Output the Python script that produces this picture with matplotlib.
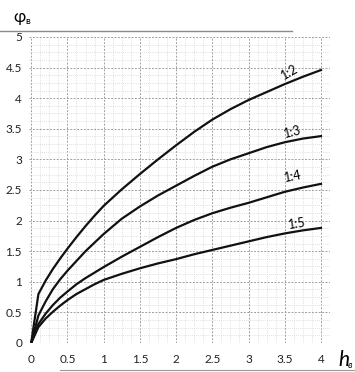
import matplotlib
matplotlib.use("Agg")
from matplotlib import pyplot as plt
from matplotlib.lines import Line2D

# values
h_vals = [0, 0.1, 0.2, 0.3, 0.4, 0.5, 0.625, 0.75, 0.875, 1.0, 1.25, 1.5, 1.75,
          2.0, 2.25, 2.5, 2.75, 3.0, 3.25, 3.5, 3.75, 4.0]
phi_12 = [0, 0.80, 1.02, 1.21, 1.38, 1.54, 1.73, 1.91, 2.08, 2.24, 2.51, 2.76, 3.00,
          3.23, 3.45, 3.65, 3.82, 3.97, 4.10, 4.23, 4.35, 4.46]
phi_13 = [0, 0.45, 0.68, 0.88, 1.04, 1.18, 1.34, 1.50, 1.64, 1.78, 2.03, 2.23, 2.41,
          2.57, 2.73, 2.88, 3.00, 3.10, 3.20, 3.28, 3.34, 3.38]
phi_14 = [0, 0.31, 0.48, 0.62, 0.74, 0.84, 0.96, 1.06, 1.15, 1.24, 1.41, 1.57, 1.73,
          1.88, 2.01, 2.12, 2.21, 2.29, 2.38, 2.47, 2.54, 2.60]
phi_15 = [0, 0.26, 0.40, 0.51, 0.61, 0.70, 0.80, 0.88, 0.96, 1.03, 1.13, 1.22, 1.30,
          1.37, 1.45, 1.52, 1.59, 1.66, 1.73, 1.79, 1.84, 1.88]
slopes = ["1:2", "1:3", "1:4", "1:5"]
x_ticks = [0, 0.5, 1, 1.5, 2, 2.5, 3, 3.5, 4]
y_ticks = [0, 0.5, 1, 1.5, 2, 2.5, 3, 3.5, 4, 4.5, 5]
tick_text = ["0", "0.5", "1", "1.5", "2", "2.5", "3", "3.5", "4", "4.5", "5"]

plt.rcParams['font.family'] = ['Lato', 'DejaVu Sans']

fig = plt.figure(figsize=(3.55, 3.72), dpi=100)
ax = fig.add_axes([0.0817, 0.078, 0.848, 0.8226])

for ys in [phi_12, phi_13, phi_14, phi_15]:
    ax.plot(h_vals, ys, color="#111111", linewidth=1.6, solid_joinstyle="round")

label_pos = [(3.57, 4.43, 30), (3.61, 3.45, 14), (3.61, 2.72, 11), (3.67, 1.95, 9)]
for name, (lx, ly, rot) in zip(slopes, label_pos):
    ax.text(lx, ly, name, fontsize=9, rotation=rot, ha="center", va="center")

ax.set_xlim(-0.03, 4.12)
ax.set_ylim(0, 5)
ax.set_xticks(x_ticks)
ax.set_xticklabels(tick_text[:9], fontsize=8.5, color="#222222")
ax.set_yticks(y_ticks)
ax.set_yticklabels(tick_text, fontsize=8.5, color="#222222")
ax.set_xticks([i * 0.125 for i in range(34)], minor=True)
ax.set_yticks([i * 0.125 for i in range(41)], minor=True)
ax.tick_params(which="both", length=0)
ax.tick_params(axis="x", pad=8)
ax.tick_params(axis="y", pad=5)
for s in ax.spines.values():
    s.set_visible(False)
ax.set_axisbelow(True)

# background texture (rough) + main grid
ax.grid(True, which="minor", color="#d6d6d6", linestyle=(0, (1, 1.5)), linewidth=0.6)
ax.grid(True, which="major", color="#a0a0a0", linestyle=(0, (2, 1.5)), linewidth=0.7)

# axis names
fig.text(13 / 355, 1 - 17 / 372, "φ", fontsize=12, va="center", ha="left")
fig.text(25 / 355, 1 - 21 / 372, "в", fontsize=7, va="center", ha="left")
fig.text(338 / 355, 1 - 360 / 372, "h", fontsize=15, style="italic", va="center", ha="left")
fig.text(348 / 355, 1 - 366 / 372, "в", fontsize=7, style="italic", va="center", ha="left")

# scan rule lines
fig.add_artist(Line2D([0, 292 / 355], [1 - 31 / 372] * 2, color="#8a8a8a", linewidth=1))
fig.add_artist(Line2D([60 / 355, 1], [1 - 370 / 372] * 2, color="#9a9a9a", linewidth=0.8))

fig.savefig("out.png", dpi=100)
